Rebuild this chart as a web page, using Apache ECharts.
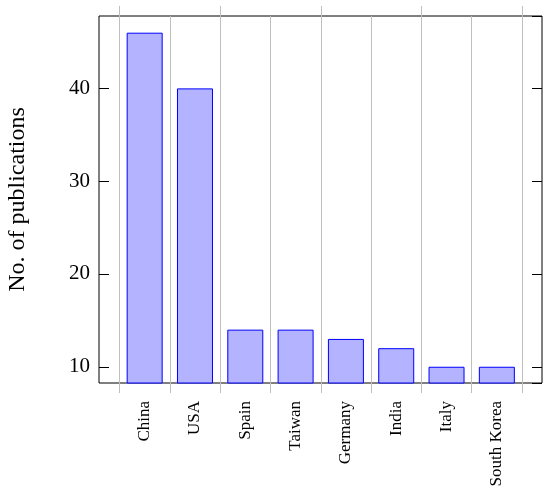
<!DOCTYPE html>
<html>
<head>
<meta charset="utf-8">
<script src="https://cdn.jsdelivr.net/npm/echarts@6/dist/echarts.min.js"></script>
<style>
  html, body { margin: 0; padding: 0; background: #fff; }
  #container { width: 550px; height: 495px; }
</style>
</head>
<body>
<div id="container"></div>
<script>
const countries = ["China", "USA", "Spain", "Taiwan", "Germany", "India", "Italy", "South Korea"];
const publications = [46, 40, 14, 14, 13, 12, 10, 10];
const yMin = 8.25;
const yMax = 47.8;

const serif = "Liberation Serif";
const gridColor = "#bfbfbf";

const dom = document.getElementById("container");
const myChart = echarts.init(dom, null, { renderer: "canvas" });

const option = {
  animation: false,
  grid: [
    // outer frame (y axis lives here)
    {
      left: 99, right: 8, top: 16, bottom: 112,
      outerBoundsMode: "none", containLabel: false,
      show: true, borderColor: "#000", borderWidth: 1, backgroundColor: "transparent"
    },
    // inner band area for the bars
    { left: 119.5, right: 28, top: 16, bottom: 112, outerBoundsMode: "none", containLabel: false }
  ],
  xAxis: [
    {
      gridIndex: 0, type: "value", show: false,
      axisLine: { show: false }, axisTick: { show: false },
      axisLabel: { show: false }, splitLine: { show: false }
    },
    {
      gridIndex: 1,
      type: "category",
      data: countries,
      boundaryGap: true,
      axisLine: { show: false },
      axisTick: { show: true, length: 10, lineStyle: { color: gridColor } },
      splitLine: { show: true, lineStyle: { color: gridColor, width: 1 } },
      axisLabel: {
        rotate: 90,
        margin: 18,
        fontFamily: serif,
        fontSize: 17,
        color: "#000"
      }
    },
    {
      gridIndex: 1,
      type: "category",
      position: "top",
      data: countries,
      boundaryGap: true,
      axisLine: { show: false },
      axisTick: { show: true, length: 10, lineStyle: { color: gridColor } },
      axisLabel: { show: false }
    }
  ],
  yAxis: [
    {
      gridIndex: 0,
      type: "value",
      min: yMin,
      max: yMax,
      name: "No. of publications",
      nameLocation: "middle",
      nameGap: 69,
      nameTextStyle: { fontFamily: serif, fontSize: 24, color: "#000" },
      axisLine: { show: false },
      axisTick: { show: true, inside: true, length: 10, lineStyle: { color: "#000" } },
      splitLine: { show: false },
      axisLabel: {
        showMinLabel: false,
        showMaxLabel: false,
        margin: 9,
        fontFamily: serif,
        fontSize: 21,
        color: "#000"
      }
    },
    {
      gridIndex: 0,
      type: "value",
      position: "right",
      min: yMin,
      max: yMax,
      axisLine: { show: false },
      axisTick: { show: true, inside: true, length: 10, lineStyle: { color: "#000" } },
      splitLine: { show: false },
      axisLabel: { show: false }
    },
    { gridIndex: 1, type: "value", min: yMin, max: yMax, show: false }
  ],
  series: [
    {
      type: "bar",
      xAxisIndex: 1,
      yAxisIndex: 2,
      data: publications,
      barWidth: 36,
      itemStyle: { color: "#b3b3ff", borderColor: "#0000ff", borderWidth: 1 }
    }
  ]
};

myChart.setOption(option);
window.addEventListener("resize", myChart.resize);
</script>
</body>
</html>
